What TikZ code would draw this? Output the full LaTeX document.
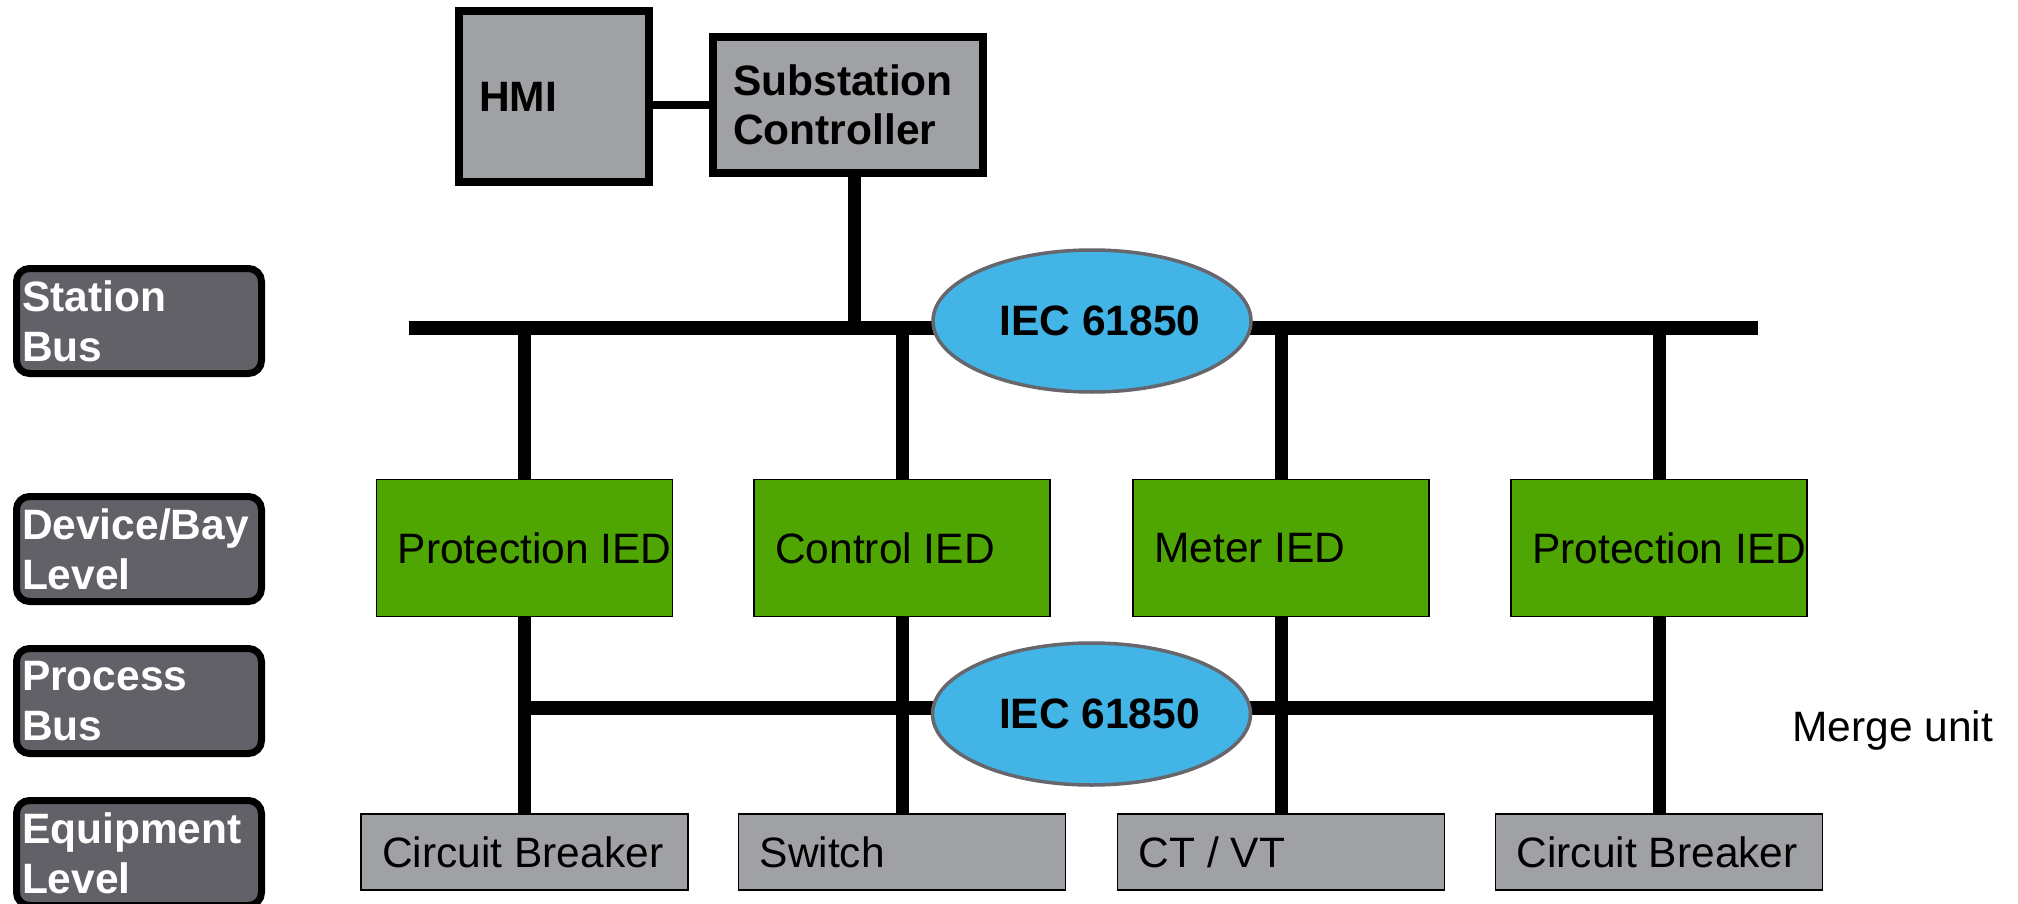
\documentclass[tikz,border=0pt]{standalone}
\usepackage{fontspec}
\setmainfont{Liberation Sans}
\usetikzlibrary{shapes.geometric}
\definecolor{boxgray}{HTML}{A0A1A5}
\definecolor{lvlgray}{HTML}{616167}
\definecolor{iedgreen}{HTML}{4FA502}
\definecolor{netblue}{HTML}{42B4E6}
\definecolor{netborder}{HTML}{66666C}
\begin{document}
\begin{tikzpicture}[x=1pt,y=-1pt,
  lvl/.style={draw=black, line width=7pt, rounded corners=13pt, fill=lvlgray, text=white,
    font=\fontsize{42.5}{50}\selectfont\bfseries, minimum width=245pt, minimum height=105pt,
    text width=234pt, align=left, inner xsep=5.5pt, inner ysep=0pt, outer sep=0pt},
  topbox/.style={draw=black, line width=8pt, fill=boxgray, inner sep=0pt, outer sep=0pt},
  ied/.style={draw=black, line width=1.8pt, fill=iedgreen, minimum width=296pt,
    minimum height=137pt, inner sep=0pt, outer sep=0pt},
  eqp/.style={draw=black, line width=1.8pt, fill=boxgray, minimum width=327pt,
    minimum height=76pt, inner sep=0pt, outer sep=0pt},
  lbl/.style={anchor=west, inner sep=0pt, font=\fontsize{42.5}{50}\selectfont},
  blbl/.style={anchor=west, inner sep=0pt, align=left, font=\fontsize{42.5}{49}\selectfont\bfseries},
  bus/.style={line width=14pt, line cap=butt},
  link/.style={line width=13pt, line cap=butt},
  net/.style={ellipse, draw=netborder, line width=3.5pt, fill=netblue, minimum width=318pt,
    minimum height=142pt, inner sep=0pt, font=\fontsize{42.5}{50}\selectfont\bfseries}
]
\useasboundingbox (0,0) rectangle (2018,904);

% level labels
\node[lvl] (l1) at (139,321) {Station\\Bus};
\node[lvl] (l2) at (139,549) {Device/Bay\\Level};
\node[lvl] (l3) at (139,701) {Process\\Bus};
\node[lvl] (l4) at (139,853) {Equipment\\Level};

% top boxes
\node[topbox, minimum width=190pt, minimum height=171pt] (hmi) at (554,96.5) {};
\node[blbl] (hmit) at ([xshift=20pt]hmi.west) {HMI};
\node[topbox, minimum width=270pt, minimum height=136pt] (sc) at (848,105) {};
\node[blbl] (sct) at ([xshift=20pt]sc.west) {Substation\\Controller};

% IEDs
\node[ied] (p1) at (524.5,548) {};
\node[ied] (p2) at (902,548) {};
\node[ied] (p3) at (1281,548) {};
\node[ied] (p4) at (1659,548) {};
\node[lbl] (p1t) at ([xshift=21pt]p1.west) {Protection IED};
\node[lbl] (p2t) at ([xshift=21pt]p2.west) {Control IED};
\node[lbl] (p3t) at ([xshift=21pt]p3.west) {Meter IED};
\node[lbl] (p4t) at ([xshift=21pt]p4.west) {Protection IED};

% equipment
\node[eqp] (e1) at (524.5,852) {};
\node[eqp] (e2) at (902,852) {};
\node[eqp] (e3) at (1281,852) {};
\node[eqp] (e4) at (1659,852) {};
\node[lbl] (e1t) at ([xshift=21pt]e1.west) {Circuit Breaker};
\node[lbl] (e2t) at ([xshift=21pt]e2.west) {Switch};
\node[lbl] (e3t) at ([xshift=21pt]e3.west) {CT / VT};
\node[lbl] (e4t) at ([xshift=21pt]e4.west) {Circuit Breaker};

% buses and links
\coordinate (sbL) at (409,328);
\coordinate (sbR) at (1758,328);
\coordinate (pb) at (0,708);
\draw[line width=8pt] (hmi.east |- sc.west) -- (sc.west);
\draw[link] ([xshift=6.5pt]sc.south) -- ([xshift=6.5pt]sc.south |- sbL);
\draw[bus] (sbL) -- (sbR);
\foreach \i in {1,2,3,4}{
  \draw[link] (p\i.north) -- (p\i.north |- sbL);
  \draw[link] (p\i.south) -- (e\i.north);
}
\draw[bus] (p1.south |- pb) -- (p4.south |- pb);

% networks
\node[net] (n1) at (1092,321) {\hspace*{16pt}IEC 61850};
\node[net] (n2) at (1091.5,714) {\hspace*{16pt}IEC 61850};

\node[lbl] (mu) at (1792,731) {Merge unit};
\end{tikzpicture}
\end{document}
